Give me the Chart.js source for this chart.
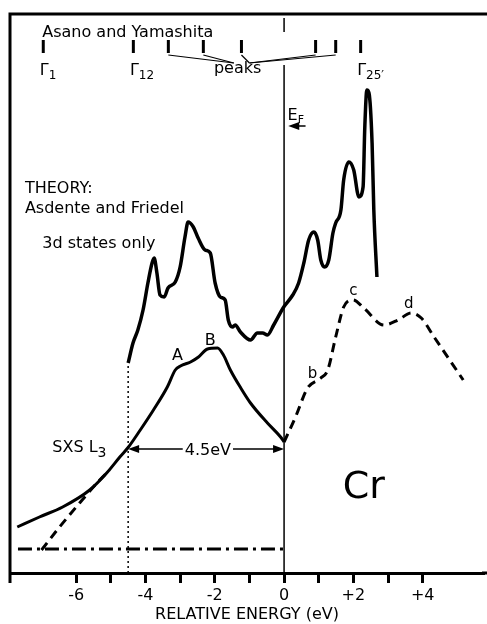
<!DOCTYPE html>
<html>
<head>
  <meta charset="UTF-8">
  <title>Cr SXS L3 and 3d density of states</title>
  <script src="https://cdn.jsdelivr.net/npm/chart.js"></script>
  <style>
    body { margin: 0; padding: 0; background-color: white; }
    #wrap { width: 487px; height: 624px; }
  </style>
</head>
<body>
  <div id="wrap"><canvas id="grafica"></canvas></div>

  <script type="text/javascript">
    // energies in eV relative to E_F, intensities in arbitrary units
    const theoryE = [-4.50,-4.36,-4.22,-4.07,-3.93,-3.81,-3.75,-3.67,-3.58,-3.46,-3.35,-3.14,-3.00,-2.86,-2.77,-2.62,-2.48,-2.28,-2.13,-1.99,-1.84,-1.70,-1.61,-1.49,-1.41,-1.26,-0.97,-0.77,-0.62,-0.48,-0.30,-0.01,0.25,0.42,0.57,0.71,0.86,0.97,1.06,1.17,1.29,1.41,1.49,1.64,1.72,1.87,2.01,2.16,2.28,2.33,2.39,2.45,2.54,2.59,2.68];
    const theoryI = [21.0,23.0,24.3,26.3,29.0,31.0,31.5,30.0,27.8,27.6,28.5,29.1,30.6,33.6,35.1,34.6,33.5,32.3,32.0,29.0,27.6,27.3,25.3,24.6,24.8,24.1,23.3,24.0,24.0,23.8,24.8,26.6,27.8,29.0,31.0,33.3,34.1,33.3,31.3,30.6,31.3,34.0,35.0,36.3,39.3,41.1,40.3,37.6,38.6,44.6,48.3,48.0,43.0,36.3,29.6];

    const sxsE = [-7.70,-7.06,-6.39,-5.61,-5.12,-4.74,-4.49,-4.15,-3.77,-3.37,-3.14,-2.99,-2.70,-2.47,-2.21,-1.92,-1.75,-1.55,-1.25,-0.97,-0.48,-0.10,0.00];
    const sxsI = [4.6,5.6,6.6,8.3,10.0,11.6,12.6,14.3,16.3,18.6,20.3,20.7,21.1,21.6,22.4,22.5,21.8,20.3,18.5,17.0,15.0,13.6,13.1];

    const sxsAboveE = [0.00,0.33,0.68,1.06,1.26,1.49,1.72,1.99,2.30,2.88,3.29,3.67,3.96,4.33,4.74,5.17];
    const sxsAboveI = [13.1,15.6,18.5,19.5,20.3,23.6,26.6,27.3,26.5,24.8,25.3,26.0,25.5,23.6,21.5,19.3];

    const tailE = [-7.00,-6.48,-5.90,-5.32,-5.03];
    const tailI = [2.3,4.6,7.0,9.3,10.3];

    const baseE = [-7.68, 0.00];
    const baseI = [2.4, 2.4];

    // Asano and Yamashita band positions
    const asanoE = [-6.95,-4.35,-3.34,-2.33,-1.23,0.91,1.49,2.21];
    const gammaLabels = [[0, '1'], [1, '12'], [7, '25\u2032']];
    const peakIdx = [2, 3, 4, 5, 6];

    const ticksShown = [-6, -4, -2, 0, 2, 4];
    const FONT = '"DejaVu Sans", sans-serif';

    const pts = (xs, ys) => xs.map((v, i) => ({ x: v, y: ys[i] }));

    const linea = (data, width, dash, extra) => Object.assign({
      data: data,
      borderColor: '#000',
      borderWidth: width,
      borderDash: dash,
      pointRadius: 0,
      fill: false,
      borderCapStyle: 'butt'
    }, extra || {});

    const decor = {
      id: 'decor',
      afterDatasetsDraw(chart) {
        const { ctx, chartArea: a, scales } = chart;
        const X = v => scales.x.getPixelForValue(v);
        const Y = v => scales.y.getPixelForValue(v);
        const txt = (s, e, i, size, align) => {
          ctx.font = size + 'px ' + FONT;
          ctx.textAlign = align || 'left';
          ctx.textBaseline = 'alphabetic';
          ctx.fillText(s, X(e), Y(i));
          return ctx.measureText(s).width;
        };
        const arrowHead = (xp, yp, dir) => {
          ctx.beginPath();
          ctx.moveTo(xp, yp);
          ctx.lineTo(xp + dir * 11, yp - 4);
          ctx.lineTo(xp + dir * 11, yp + 4);
          ctx.closePath();
          ctx.fill();
        };
        ctx.save();
        ctx.strokeStyle = '#000';
        ctx.fillStyle = '#000';

        // frame, carried to the right edge of the page
        ctx.lineWidth = 3;
        ctx.beginPath();
        ctx.moveTo(a.left, a.bottom + 10);
        ctx.lineTo(a.left, a.top);
        ctx.lineTo(chart.width, a.top);
        ctx.moveTo(a.right - 2, a.bottom);
        ctx.lineTo(chart.width, a.bottom);
        ctx.stroke();

        // Asano and Yamashita marks
        asanoE.forEach(e => {
          ctx.beginPath();
          ctx.moveTo(X(e), Y(53.3));
          ctx.lineTo(X(e), Y(52.0));
          ctx.stroke();
        });
        ctx.lineWidth = 1.2;
        peakIdx.forEach(k => {
          const target = asanoE[k] < -1.3 ? -1.45 : -1.0;
          ctx.beginPath();
          ctx.moveTo(X(asanoE[k]), Y(51.8));
          ctx.lineTo(X(target), Y(51.0));
          ctx.stroke();
        });
        txt('Asano and Yamashita', -6.98, 53.6, 16);
        txt('peaks', -1.34, 50.0, 16, 'center');
        gammaLabels.forEach(([k, sub]) => {
          const w = txt('\u0393', asanoE[k] - 0.1, 49.8, 16);
          ctx.font = '12px ' + FONT;
          ctx.textAlign = 'left';
          ctx.fillText(sub, X(asanoE[k] - 0.1) + w, Y(49.4));
        });

        // E_F marker
        const wE = txt('E', 0.10, 45.3, 16);
        ctx.font = '11px ' + FONT;
        ctx.fillText('F', X(0.10) + wE, Y(45.0));
        ctx.lineWidth = 1.5;
        ctx.beginPath();
        ctx.moveTo(X(0.62), Y(44.7));
        ctx.lineTo(X(0.12) + 8, Y(44.7));
        ctx.stroke();
        arrowHead(X(0.12), Y(44.7), 1);

        // theory labels
        txt('THEORY:', -7.48, 38.0, 16);
        txt('Asdente and Friedel', -7.48, 36.0, 16);
        txt('3d states only', -6.98, 32.5, 16);

        // SXS labels
        const wS = txt('SXS L', -6.69, 12.1, 16);
        ctx.font = '14px ' + FONT;
        ctx.fillText('3', X(-6.69) + wS, Y(11.6));
        txt('A', -3.08, 21.3, 16, 'center');
        txt('B', -2.13, 22.8, 16, 'center');
        txt('b', 0.82, 19.5, 15, 'center');
        txt('c', 2.00, 27.8, 15, 'center');
        txt('d', 3.60, 26.5, 15, 'center');

        // 4.5 eV width
        const wW = txt('4.5eV', -2.2, 11.8, 16, 'center');
        const yW = Y(12.4);
        ctx.lineWidth = 1.3;
        ctx.beginPath();
        ctx.moveTo(X(-4.5) + 10, yW);
        ctx.lineTo(X(-2.2) - wW / 2 - 2, yW);
        ctx.moveTo(X(-2.2) + wW / 2 + 2, yW);
        ctx.lineTo(X(0) - 10, yW);
        ctx.stroke();
        arrowHead(X(-4.5), yW, 1);
        arrowHead(X(0), yW, -1);

        txt('Cr', 1.69, 7.5, 38);
        ctx.restore();
      }
    };

    new Chart(document.getElementById('grafica').getContext('2d'), {
      type: 'line',
      data: {
        datasets: [
          linea(pts(theoryE, theoryI), 3.5, [], { cubicInterpolationMode: 'monotone' }),
          linea(pts(sxsE, sxsI), 3, [], { cubicInterpolationMode: 'monotone' }),
          linea(pts(sxsAboveE, sxsAboveI), 3, [9, 6], { cubicInterpolationMode: 'monotone' }),
          linea(pts(tailE, tailI), 3, [9, 6], { cubicInterpolationMode: 'monotone' }),
          linea(pts(baseE, baseI), 3, [14, 5, 3, 5]),
          linea([{ x: 0, y: 0 }, { x: 0, y: 50.8 }], 1.5, []),
          linea([{ x: 0, y: 54.1 }, { x: 0, y: 55.5 }], 1.5, []),
          linea([{ x: -4.5, y: 0 }, { x: -4.5, y: 21.0 }], 1.5, [2, 3])
        ]
      },
      options: {
        responsive: true,
        maintainAspectRatio: false,
        animation: false,
        layout: { padding: { left: 10, top: 14, right: 0, bottom: 0 } },
        plugins: { legend: { display: false }, tooltip: { enabled: false } },
        scales: {
          x: {
            type: 'linear',
            min: -7.91,
            max: 5.77,
            afterFit: s => { s.height = 51; },
            border: { display: true, color: '#000', width: 3 },
            grid: {
              drawOnChartArea: false,
              drawTicks: true,
              tickLength: 10,
              tickWidth: 3,
              tickColor: c => Number.isInteger(c.tick.value) ? '#000' : 'rgba(0,0,0,0)'
            },
            ticks: {
              stepSize: 1,
              autoSkip: false,
              maxRotation: 0,
              padding: 3,
              color: '#000',
              font: { size: 16, family: FONT },
              callback: v => ticksShown.includes(v) ? (v > 0 ? '+' + v : String(v)) : ''
            },
            title: {
              display: true,
              text: 'RELATIVE ENERGY (eV)',
              color: '#000',
              font: { size: 16, family: FONT },
              padding: { top: 0, bottom: 0 }
            }
          },
          y: {
            display: false,
            min: 0,
            max: 55.9
          }
        }
      },
      plugins: [decor]
    });
  </script>
</body>
</html>
